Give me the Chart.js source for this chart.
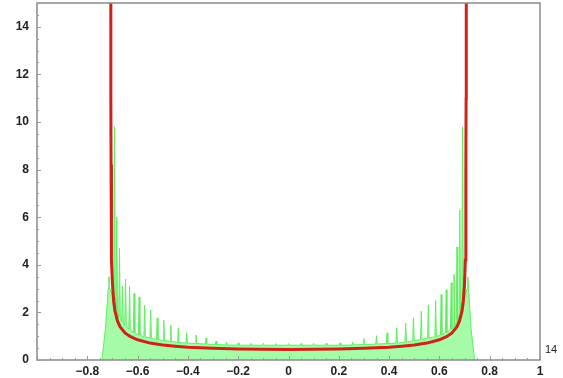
<!DOCTYPE html>
<html>
<head>
<meta charset="utf-8">
<script src="https://cdn.jsdelivr.net/npm/chart.js@4.4.0/dist/chart.umd.min.js"></script>
<style>
html,body{margin:0;padding:0;background:#fff;}
#wrap{position:relative;width:563px;height:378px;}
#note{position:absolute;left:545px;top:343px;font:11px "Liberation Sans",Arial,sans-serif;color:#222;}
</style>
</head>
<body>
<div id="wrap"><canvas id="c" width="563" height="378"></canvas><div id="note">14</div></div>
<script>
const xTicks = [-0.8, -0.6, -0.4, -0.2, 0, 0.2, 0.4, 0.6, 0.8, 1];
const yTicks = [0, 2, 4, 6, 8, 10, 12, 14];

// green histogram: spike positions, spike heights and the fill level around each spike
const spikeX = [-0.714,-0.692,-0.683,-0.672,-0.660,-0.648,-0.632,-0.614,-0.594,-0.572,-0.548,-0.522,-0.496,-0.468,-0.438,-0.405,-0.368,-0.328,-0.288,-0.246,-0.200,-0.150,-0.100,-0.050,0.000,
  0.050,0.100,0.150,0.205,0.255,0.300,0.350,0.392,0.430,0.466,0.497,0.528,0.556,0.585,0.607,0.627,0.647,0.658,0.670,0.681,0.692,0.713];
const spikeH = [3.5,9.8,6.0,4.7,3.1,3.4,3.1,2.8,2.65,2.3,2.1,1.77,1.68,1.47,1.35,1.14,1.05,0.93,0.80,0.76,0.72,0.70,0.70,0.69,0.69,
  0.69,0.70,0.70,0.72,0.76,0.90,1.02,1.14,1.35,1.55,1.77,2.05,2.30,2.50,2.75,2.95,3.25,3.6,4.75,6.30,9.8,3.5];
const baseH = [3.0,2.6,2.1,1.8,1.6,1.45,1.3,1.15,1.05,0.98,0.92,0.86,0.82,0.78,0.74,0.71,0.69,0.67,0.65,0.63,0.62,0.62,0.62,0.62,0.62,
  0.62,0.62,0.62,0.62,0.63,0.65,0.67,0.69,0.71,0.75,0.81,0.86,0.92,0.98,1.05,1.15,1.3,1.4,1.6,1.9,2.5,3.0];
const edgeX = [-0.742, -0.728, 0.726, 0.740];
const edgeY = [0, 1.3, 1.3, 0];

const greenPts = [{x:edgeX[0], y:edgeY[0]}, {x:edgeX[1], y:edgeY[1]}];
spikeX.forEach((x,i)=>{
  greenPts.push({x:x-0.003, y:baseH[i]});
  greenPts.push({x:x, y:spikeH[i]});
  greenPts.push({x:x+0.003, y:baseH[i]});
});
greenPts.push({x:edgeX[2], y:edgeY[2]});
greenPts.push({x:edgeX[3], y:edgeY[3]});

// red density curve
const redX = [-0.7071,-0.7066,-0.7062,-0.7055,-0.705,-0.703,-0.700,-0.695,-0.690,-0.680,-0.670,-0.650,-0.630,-0.600,-0.550,-0.500,-0.450,-0.400,-0.300,-0.200,-0.100,0.000,0.100,0.200,0.300,0.400,0.450,0.500,0.550,0.600,0.630,0.650,0.670,0.680,0.690,0.695,0.700,0.703,0.705,0.7055,0.7062,0.7066,0.7071];
const redY = [30,16,11,8.2,5.8,4.2,3.2,2.45,2.06,1.64,1.40,1.14,0.99,0.85,0.71,0.63,0.58,0.54,0.49,0.46,0.45,0.44,0.45,0.46,0.49,0.54,0.58,0.63,0.71,0.85,0.99,1.14,1.40,1.64,2.06,2.45,3.2,4.2,5.8,8.2,11,16,30];
const redPts = redX.map((x,i)=>({x:x,y:redY[i]}));

const frame = {
  id:'frame',
  afterDraw(chart){
    const {ctx, chartArea:a, scales} = chart;
    ctx.save();
    ctx.strokeStyle = '#8a8a8a';
    ctx.lineWidth = 1.5;
    ctx.strokeRect(a.left, a.top, a.right - a.left, a.bottom - a.top);
    ctx.lineWidth = 1;
    ctx.strokeStyle = '#999';
    for (let k = 0; k <= 30; k++) {
      const y = Math.round(scales.y.getPixelForValue(k/2)) + 0.5;
      const len = (k % 4 === 0) ? 4 : 2;
      ctx.beginPath(); ctx.moveTo(a.left, y); ctx.lineTo(a.left + len, y); ctx.stroke();
    }
    for (let k = -20; k <= 20; k++) {
      const x = Math.round(scales.x.getPixelForValue(k/20)) + 0.5;
      const len = (k % 4 === 0) ? 4 : 2;
      ctx.beginPath(); ctx.moveTo(x, a.bottom); ctx.lineTo(x, a.bottom - len); ctx.stroke();
    }
    ctx.restore();
  }
};

const tickFont = { family: '"Liberation Sans", Arial, sans-serif', size: 12, weight: 'bold' };

new Chart(document.getElementById('c'), {
  type: 'line',
  data: {
    datasets: [
      {
        data: greenPts,
        borderColor: 'rgb(95,238,95)',
        borderWidth: 1,
        backgroundColor: 'rgba(150,250,150,0.85)',
        fill: 'origin',
        pointRadius: 0,
        tension: 0,
        order: 2
      },
      {
        data: redPts,
        borderColor: 'rgb(205,35,25)',
        borderWidth: 3,
        fill: false,
        pointRadius: 0,
        tension: 0,
        order: 1
      }
    ]
  },
  options: {
    responsive: false,
    animation: false,
    events: [],
    layout: { padding: { top: 3, right: 23, left: 0, bottom: 0 } },
    plugins: { legend: { display: false }, tooltip: { enabled: false } },
    scales: {
      x: {
        type: 'linear',
        min: -1, max: 1,
        afterFit(s){ s.height = 18; s.paddingLeft = 0; s.paddingRight = 0; },
        afterBuildTicks(s){ s.ticks = xTicks.map(v=>({value:v})); },
        grid: { display: false, drawTicks: false },
        border: { display: false },
        ticks: {
          padding: 4,
          maxRotation: 0,
          autoSkip: false,
          color: '#222',
          font: tickFont,
          callback: v => (Math.round(v*10)/10).toString().replace('-', '\u2212')
        }
      },
      y: {
        type: 'linear',
        min: 0, max: 15,
        afterFit(s){ s.width = 37; s.paddingTop = 0; s.paddingBottom = 0; },
        afterBuildTicks(s){ s.ticks = yTicks.map(v=>({value:v})); },
        grid: { display: false, drawTicks: false },
        border: { display: false },
        ticks: {
          padding: 8,
          autoSkip: false,
          color: '#222',
          font: tickFont
        }
      }
    }
  },
  plugins: [frame]
});
</script>
</body>
</html>
